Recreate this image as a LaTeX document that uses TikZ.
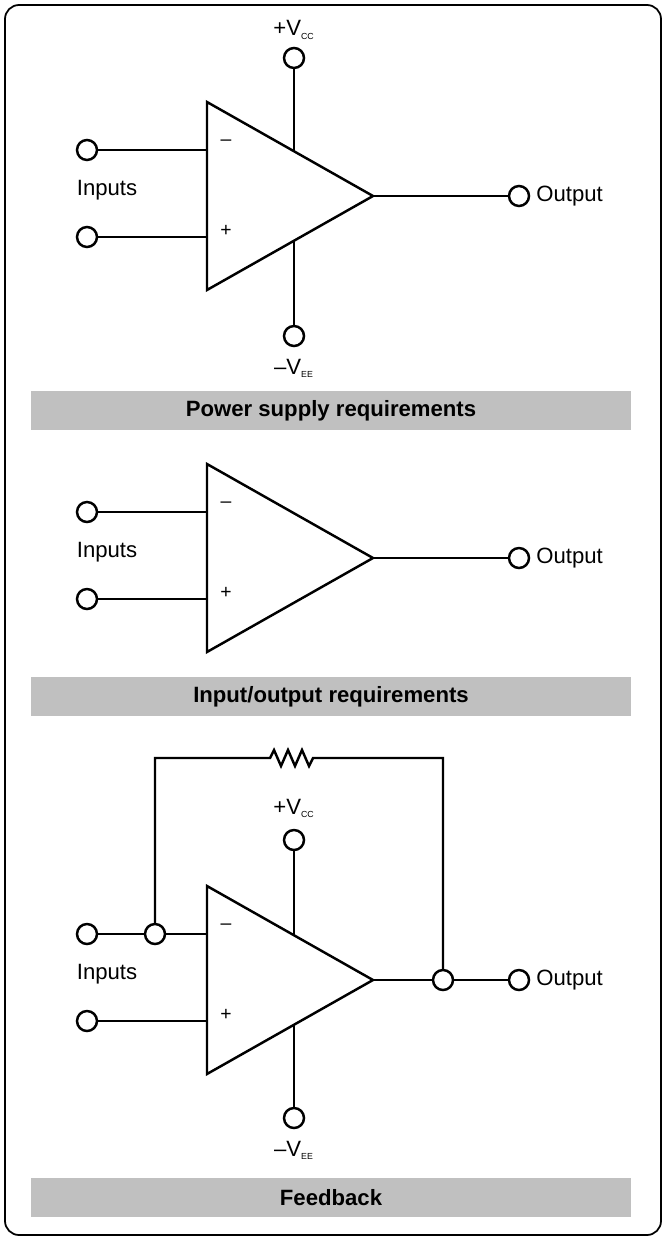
\documentclass[tikz,border=0pt]{standalone}
\usepackage{fontspec}
\setmainfont{Liberation Sans}
\usetikzlibrary{positioning}
\definecolor{bargray}{RGB}{192,192,192}
\tikzset{
  every node/.style={font=\fontsize{12.6}{15}\selectfont},
  wire/.style={line width=1.4pt},
  term/.style={circle,draw,line width=1.4pt,fill=white,minimum size=20\unit,inner sep=0pt},
  bar/.style={fill=bargray,draw=none,minimum width=600\unit,minimum height=39\unit,inner sep=0pt,font=\fontsize{12.6}{15}\selectfont\bfseries},
  lbl/.style={inner sep=1pt},
  sgn/.style={font=\fontsize{11}{13}\selectfont},
}
\newlength{\unit}\setlength{\unit}{0.02cm}
\newcommand{\opamp}[3]{% #1 y-offset, #2 name prefix
  \begin{scope}[shift={(0,#1)}]
    \draw[wire] (207,102) -- (207,290) -- (373,196) -- cycle;
    \node[sgn] at (226,143) {–};
    \node[sgn] at (226,231) {+};
    \coordinate (#2out) at (373,196);
    \coordinate (#2m) at (207,150);
    \coordinate (#2p) at (207,237);
    \node[term] (#2inm) at (87,150) {};
    \node[term] (#2inp) at (87,237) {};
    \node[term] (#2o) at (519,196) {};
    \node[lbl,right=4\unit of #2o] {Output};
    \node at (107,190) {Inputs};
    \draw[wire] (#2inp) -- (#2p);
    \draw[wire] (#2o) -- (#2out);
  \end{scope}}
\begin{document}
\begin{tikzpicture}[x=0.02cm,y=-0.02cm]
  \useasboundingbox (0,0) rectangle (666,1240);
  \draw[line width=1pt,rounded corners=8pt] (5,5) rectangle (661,1235);
  % power supply requirements
  \opamp{0}{a}{}
  \draw[line width=0.8pt] (ainm) -- (am);
  \node[term] (avcc) at (294,58) {};
  \node[term] (avee) at (294,336) {};
  \node[lbl] at (294,30) {+V\textsubscript{\tiny CC}};
  \node[lbl] at (294,368) {–V\textsubscript{\tiny EE}};
  \draw[wire] (avcc) -- (294,151);
  \draw[wire] (avee) -- (294,241);
  \node[bar] (bara) at (331,410.5) {Power supply requirements};
  % input/output requirements
  \opamp{362}{b}{}
  \draw[wire] (binm) -- (bm);
  \node[bar] (barb) at (331,696.5) {Input/output requirements};
  % feedback
  \opamp{784}{c}{}
  \node[term] (cj1) at (155,934) {};
  \node[term] (cj2) at (443,980) {};
  \draw[wire] (cinm) -- (cj1) -- (cm);
  \draw[wire] (cj1) -- (155,758) -- (270,758) -- (274,750) -- (281,766) -- (288,750)
    -- (295,766) -- (302,750) -- (309,766) -- (313,758) -- (443,758) -- (cj2);
  \node[term] (cvcc) at (294,840) {};
  \node[term] (cvee) at (294,1118) {};
  \node[lbl] at (294,808) {+V\textsubscript{\tiny CC}};
  \node[lbl] at (294,1150) {–V\textsubscript{\tiny EE}};
  \draw[wire] (cvcc) -- (294,935);
  \draw[wire] (cvee) -- (294,1025);
  \node[bar] (barc) at (331,1197.5) {Feedback};
\end{tikzpicture}
\end{document}
